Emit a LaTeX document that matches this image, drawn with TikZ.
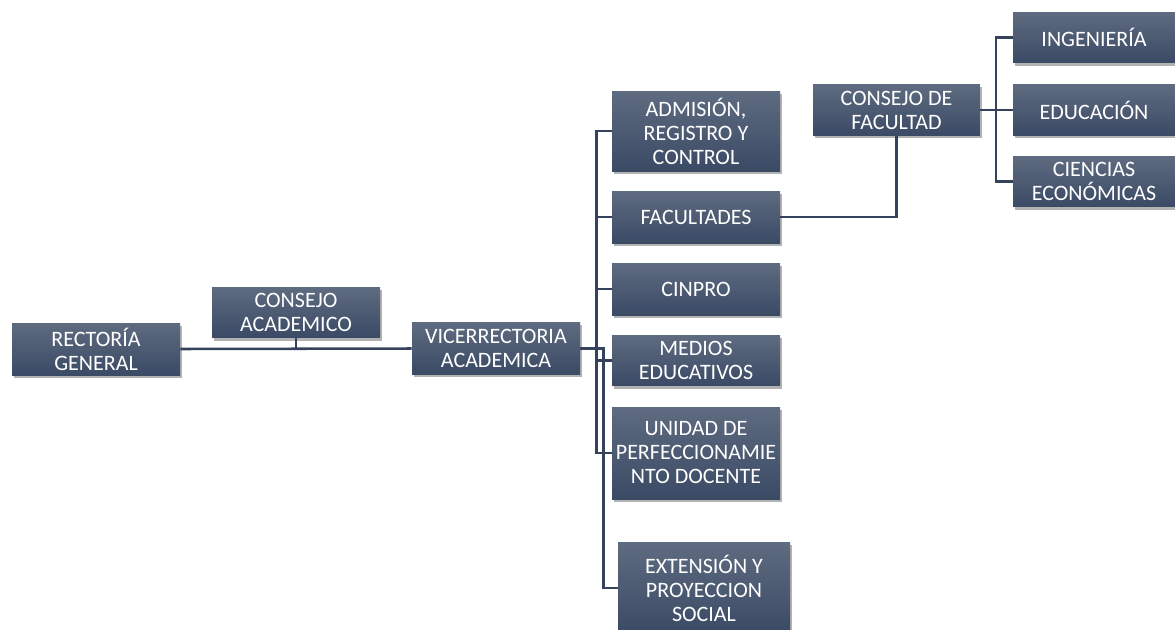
\documentclass[tikz,border=0pt]{standalone}
\usepackage{fontspec}
\setmainfont{Carlito}
\usepackage{tikz}
\definecolor{boxtop}{HTML}{5E6B80}
\definecolor{boxbottom}{HTML}{3B4A65}
\definecolor{linkcol}{HTML}{34435B}
\tikzset{>=stealth}
\usetikzlibrary{positioning, shadows}

\begin{document}
\begin{tikzpicture}[x=0.75pt, y=-0.75pt,
    unit/.style={rectangle, top color=boxtop, bottom color=boxbottom, draw=none,
        text=white, align=center, inner sep=0pt, minimum width=126pt, minimum height=39pt,
        font=\fontsize{16.5}{18}\selectfont,
        drop shadow={shadow xshift=1.5pt, shadow yshift=-2pt, opacity=0.3, fill=black}},
    link/.style={draw=linkcol, line width=1.9pt}]
        \useasboundingbox (0,0) rectangle (1175,629);

        % Draw the main chain
        \node[unit] (rg) at (96,349) {RECTORÍA\\GENERAL};
        \node[unit, minimum height=38pt] (ca) at (296,312.5) {CONSEJO\\ACADEMICO};
        \node[unit] (vra) at (496,348.5) {VICERRECTORIA\\ACADEMICA};

        % Dependencies of the vice-rectorate
        \node[unit, minimum height=60pt] (adm) at (696,131) {ADMISIÓN,\\REGISTRO Y\\CONTROL};
        \node[unit] (fac) at (696,217) {FACULTADES};
        \node[unit] (cin) at (696,289) {CINPRO};
        \node[unit, minimum height=38pt] (med) at (696,360.5) {MEDIOS\\EDUCATIVOS};
        \node[unit, minimum height=69pt] (uni) at (696,453) {UNIDAD DE\\PERFECCIONAMIE\\NTO DOCENTE};
        \node[unit, minimum width=129pt, minimum height=69pt] (ext) at (704,588) {EXTENSIÓN Y\\PROYECCION\\SOCIAL};

        % Faculty council and faculties
        \node[unit, minimum width=125pt, minimum height=38pt] (cf) at (896.5,110) {CONSEJO DE\\FACULTAD};
        \node[unit, minimum width=121.5pt, minimum height=38pt] (ing) at (1094,37.5) {INGENIERÍA};
        \node[unit, minimum width=121.5pt, minimum height=38pt] (edu) at (1094,110) {EDUCACIÓN};
        \node[unit, minimum width=121.5pt, minimum height=38pt] (cie) at (1094,181.5) {CIENCIAS\\ECONÓMICAS};

        % Connectors
        \draw[link] (rg.east) -- (vra.west);
        \draw[link] (ca.south) -- (ca.south |- rg.east);
        \foreach \child in {adm, fac, cin, med, uni}
            \draw[link] (vra.east) -- ++(16,0) |- (\child.west);
        \draw[link] (vra.east) -- ++(23,0) |- (ext.west);
        \draw[link] (fac.east) -| (cf.south);
        \foreach \child in {ing, edu, cie}
            \draw[link] (cf.east) -- ++(16,0) |- (\child.west);
\end{tikzpicture}
\end{document}
